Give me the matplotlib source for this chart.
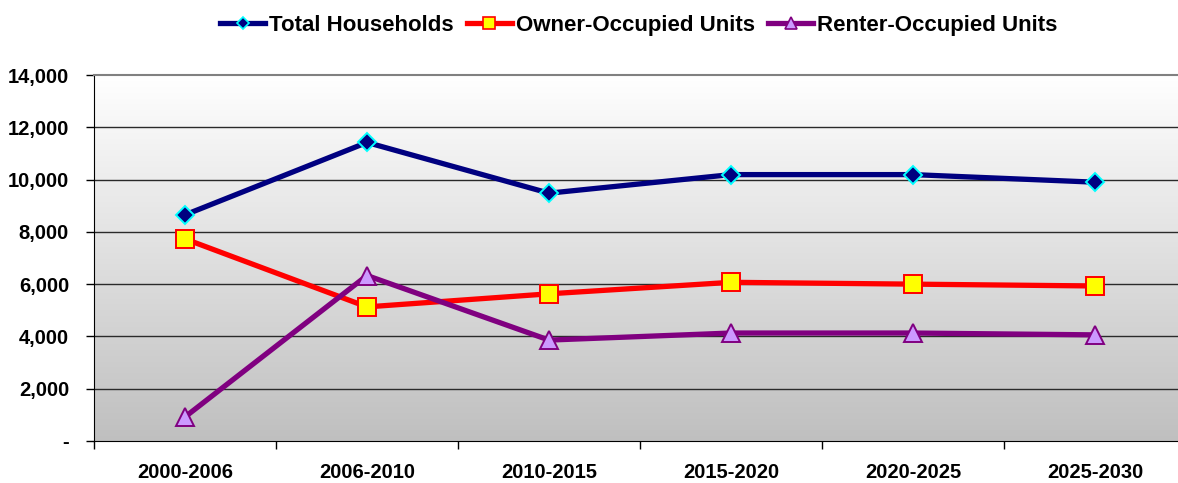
import numpy as np
import matplotlib
matplotlib.use("Agg")
import matplotlib.pyplot as plt
from matplotlib.lines import Line2D

periods = ["2000-2006", "2006-2010", "2010-2015", "2015-2020", "2020-2025", "2025-2030"]
total_households = [8650, 11420, 9480, 10190, 10190, 9900]
owner_occupied = [7730, 5130, 5630, 6070, 6000, 5930]
renter_occupied = [920, 6330, 3860, 4130, 4130, 4060]

y_ticks = [0, 2000, 4000, 6000, 8000, 10000, 12000, 14000]
y_tick_labels = ["-", "2,000", "4,000", "6,000", "8,000", "10,000", "12,000", "14,000"]

plt.rcParams["font.family"] = ["Liberation Sans", "DejaVu Sans"]
plt.rcParams["font.weight"] = "bold"

W, H = 1178, 483
fig = plt.figure(figsize=(W / 100, H / 100), dpi=100)
ax = fig.add_axes([94 / W, (H - 441) / H, 1092 / W, 366 / H])

x = np.arange(len(periods))
ax.set_xlim(-0.5, len(periods) - 0.5)
ax.set_ylim(0, 14000)

# vertical gradient fill: white at the top, silver at the bottom
grad = np.linspace(1.0, 0.0, 256)[:, None]
top = np.array([1.0, 1.0, 1.0])
bot = np.array([0.75, 0.75, 0.75])
img = (grad[..., None] * top + (1 - grad[..., None]) * bot)
ax.imshow(img, extent=[-0.5, len(periods) - 0.5, 0, 14000], aspect="auto",
          origin="upper", zorder=0)

for yv in y_ticks[1:-1]:
    ax.axhline(yv, color="#2a2a2a", lw=1.0, zorder=1)

series = [
    (total_households, "Total Households", "#000080", "D", "#000080", "#00FFFF", 9.5),
    (owner_occupied, "Owner-Occupied Units", "#FF0000", "s", "#FFFF00", "#FF0000", 12.5),
    (renter_occupied, "Renter-Occupied Units", "#800080", "^", "#CC99FF", "#800080", 13.5),
]
handles = []
for vals, label, color, mk, mfc, mec, ms in series:
    ax.plot(x, vals, color=color, lw=3.8, marker=mk, markersize=ms,
            markerfacecolor=mfc, markeredgecolor=mec, markeredgewidth=1.4,
            zorder=3, clip_on=False)
    handles.append(Line2D([], [], color=color, lw=3.8, marker=mk, markersize=ms * 0.65,
                          markerfacecolor=mfc, markeredgecolor=mec,
                          markeredgewidth=1.2, label=label))

ax.set_yticks(y_ticks)
ax.set_yticklabels(y_tick_labels, fontsize=14.5, fontweight="bold")
ax.tick_params(axis="y", direction="out", length=6, width=1, pad=12)

ax.set_xticks(np.arange(-0.5, len(periods), 1.0))
ax.set_xticklabels([])
ax.tick_params(axis="x", which="major", direction="out", length=6, width=1)
ax.set_xticks(x, minor=True)
ax.set_xticklabels(periods, minor=True, fontsize=14.5, fontweight="bold")
ax.tick_params(axis="x", which="minor", length=0, pad=16)

ax.spines["top"].set_color("#808080")
ax.spines["top"].set_linewidth(1.5)
ax.spines["left"].set_color("#000000")
ax.spines["bottom"].set_color("#000000")
ax.spines["right"].set_visible(False)

fig.legend(handles=handles, loc="upper center", bbox_to_anchor=(639 / W, 1.01),
           ncol=3, frameon=False, handlelength=2.0,
           handletextpad=0.2, columnspacing=0.6, prop={"weight": "bold", "size": 16})

fig.savefig("out.png", dpi=100)
